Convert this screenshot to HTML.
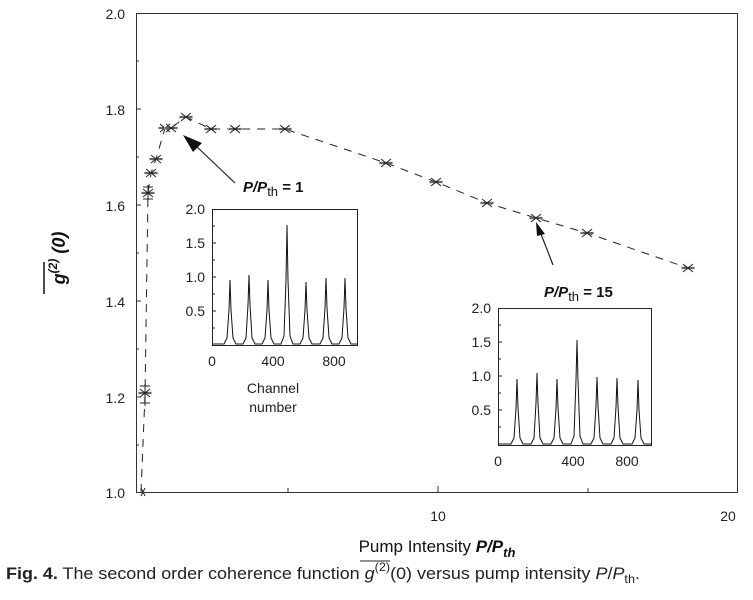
<!DOCTYPE html>
<html><head><meta charset="utf-8"><style>
body{margin:0;background:#fff;}
svg{display:block;font-family:"Liberation Sans",sans-serif;}
</style></head><body>
<svg width="753" height="600" viewBox="0 0 753 600" xmlns="http://www.w3.org/2000/svg">
<defs><g id="m"><path d="M-7,0L7,0" stroke="#aaa" stroke-width="2.5"/><path d="M-5,-4L5,4M-5,4L5,-4M-6,0L6,0" stroke="#222" stroke-width="1" fill="none"/></g></defs>
<!-- main frame -->
<rect x="136.5" y="13.5" width="601" height="479" fill="none" stroke="#333" stroke-width="1"/>
<g stroke="#333" stroke-width="1">
<line x1="136" y1="109" x2="141" y2="109"/><line x1="136" y1="205" x2="141" y2="205"/><line x1="136" y1="301" x2="141" y2="301"/><line x1="136" y1="397" x2="141" y2="397"/>
<line x1="136" y1="61" x2="139" y2="61"/><line x1="136" y1="157" x2="139" y2="157"/><line x1="136" y1="253" x2="139" y2="253"/><line x1="136" y1="349" x2="139" y2="349"/><line x1="136" y1="445" x2="139" y2="445"/>
<line x1="288" y1="492" x2="288" y2="488"/><line x1="438" y1="492" x2="438" y2="486"/><line x1="588" y1="492" x2="588" y2="488"/>
</g>
<g font-size="14" fill="#222" text-anchor="end">
<text x="125" y="19">2.0</text><text x="125" y="115">1.8</text><text x="125" y="211">1.6</text><text x="125" y="307">1.4</text><text x="125" y="403">1.2</text><text x="125" y="498">1.0</text>
</g>
<g font-size="14" fill="#222" text-anchor="middle">
<text x="438" y="521">10</text><text x="728" y="521">20</text>
</g>
<text x="437" y="552" font-size="17" text-anchor="middle" fill="#111">Pump Intensity <tspan font-weight="bold" font-style="italic">P/P<tspan font-size="13" dy="5">th</tspan></tspan></text>
<g transform="translate(65,258) rotate(-90)"><text x="0" y="0" font-size="18" font-weight="bold" font-style="italic" text-anchor="middle" fill="#111">g<tspan font-size="12" dy="-8">(2)</tspan><tspan dy="8"> (0)</tspan></text><line x1="-36" y1="-21" x2="-4" y2="-21" stroke="#111" stroke-width="1.5"/></g>
<!-- data line -->
<polyline points="141,492 145,395 148,193 151,173 156,159 165,128 171,128 186,117 211,129 235,129 285,129 386,163 436,182 487,203 536,218 587,233 688,268" fill="none" stroke="#222" stroke-width="1" stroke-dasharray="8,7"/>
<g>
<use href="#m" x="148" y="193"/><use href="#m" x="151" y="173"/><use href="#m" x="156" y="159"/><use href="#m" x="165" y="128"/><use href="#m" x="171" y="128"/><use href="#m" x="186" y="117"/><use href="#m" x="211" y="129"/><use href="#m" x="235" y="129"/><use href="#m" x="285" y="129"/><use href="#m" x="386" y="163"/><use href="#m" x="436" y="182"/><use href="#m" x="487" y="203"/><use href="#m" x="536" y="218"/><use href="#m" x="587" y="233"/><use href="#m" x="688" y="268"/><use href="#m" x="145" y="393"/>
</g>
<path d="M141,488L145,496M141,496L145,488" stroke="#222" fill="none"/>
<path d="M145,384L145,406M140,386L150,386M140,403L150,403M148,185L148,200M143,187L153,187M143,199L153,199" stroke="#222" fill="none"/>
<!-- arrows -->
<line x1="235" y1="183" x2="195" y2="145" stroke="#222" stroke-width="1.2"/>
<polygon points="183,135 202,143 193,152" fill="#111"/>
<line x1="553" y1="265" x2="541" y2="234" stroke="#222" stroke-width="1.2"/>
<polygon points="536,222 545,234 537,236" fill="#111"/>
<text x="243" y="192" font-size="15" font-weight="bold" font-style="italic" fill="#111">P/P<tspan font-weight="normal" font-style="normal" font-size="13" dy="4">th</tspan><tspan font-style="normal" dy="-4"> = 1</tspan></text>
<text x="544" y="297" font-size="15" font-weight="bold" font-style="italic" fill="#111">P/P<tspan font-weight="normal" font-style="normal" font-size="13" dy="4">th</tspan><tspan font-style="normal" dy="-4"> = 15</tspan></text>
<!-- inset 1 -->
<rect x="212.5" y="209.5" width="145" height="136" fill="none" stroke="#222"/>
<g stroke="#222"><line x1="212" y1="226" x2="215" y2="226"/><line x1="212" y1="243" x2="216" y2="243"/><line x1="212" y1="260" x2="215" y2="260"/><line x1="212" y1="277" x2="216" y2="277"/><line x1="212" y1="294" x2="215" y2="294"/><line x1="212" y1="311" x2="216" y2="311"/><line x1="212" y1="328" x2="215" y2="328"/></g>
<g font-size="14" fill="#222" text-anchor="end"><text x="205" y="214">2.0</text><text x="205" y="248">1.5</text><text x="205" y="282">1.0</text><text x="205" y="316">0.5</text></g>
<g font-size="14" fill="#222" text-anchor="middle"><text x="212" y="366">0</text><text x="273" y="366">400</text><text x="334" y="366">800</text>
<text x="273" y="393">Channel</text><text x="273" y="412">number</text></g>
<path fill="none" stroke="#111" stroke-width="1" d="M213,344L224,344L227,338L229,310L230,280L231,310L233,338L236,344L243,344L246,338L248,305L249,275L250,305L252,338L255,344L262,344L265,338L267,310L268,280L269,310L271,338L274,344L281,344L284,336L286,280L287,225L288,280L290,336L293,344L300,344L303,338L305,310L306,282L307,310L309,338L312,344L320,344L323,338L325,308L326,278L327,308L329,338L332,344L339,344L342,338L344,308L345,278L346,308L348,338L351,344L357,344"/>
<!-- inset 2 -->
<rect x="498.5" y="308.5" width="153" height="137" fill="none" stroke="#222"/>
<g stroke="#222"><line x1="498" y1="325" x2="501" y2="325"/><line x1="498" y1="342" x2="502" y2="342"/><line x1="498" y1="359" x2="501" y2="359"/><line x1="498" y1="376" x2="502" y2="376"/><line x1="498" y1="393" x2="501" y2="393"/><line x1="498" y1="410" x2="502" y2="410"/><line x1="498" y1="427" x2="501" y2="427"/></g>
<g font-size="14" fill="#222" text-anchor="end"><text x="491" y="313">2.0</text><text x="491" y="347">1.5</text><text x="491" y="381">1.0</text><text x="491" y="415">0.5</text></g>
<g font-size="14" fill="#222" text-anchor="middle"><text x="498" y="466">0</text><text x="573" y="466">400</text><text x="627" y="466">800</text></g>
<path fill="none" stroke="#111" stroke-width="1" d="M499,444L511,444L514,438L516,408L517,379L518,408L520,438L523,444L531,444L534,438L536,403L537,373L538,403L540,438L543,444L551,444L554,438L556,408L557,379L558,408L560,438L563,444L571,444L574,436L576,380L577,340L578,380L580,436L583,444L591,444L594,438L596,406L597,377L598,406L600,438L603,444L611,444L614,438L616,407L617,378L618,407L620,438L623,444L632,444L635,438L637,410L638,380L639,410L641,438L644,444L651,444"/>
<!-- caption -->
<text x="6" y="579" font-size="17" fill="#222" textLength="634" lengthAdjust="spacingAndGlyphs"><tspan font-weight="bold">Fig. 4.</tspan> The second order coherence function <tspan font-style="italic">g</tspan><tspan font-size="12" dy="-8">(2)</tspan><tspan dy="8">(0) versus pump intensity </tspan><tspan font-style="italic">P</tspan>/<tspan font-style="italic">P</tspan><tspan font-size="12" dy="4">th</tspan><tspan dy="-4">.</tspan></text>
<line x1="360" y1="561" x2="390" y2="561" stroke="#222" stroke-width="1"/>
</svg>
</body></html>
